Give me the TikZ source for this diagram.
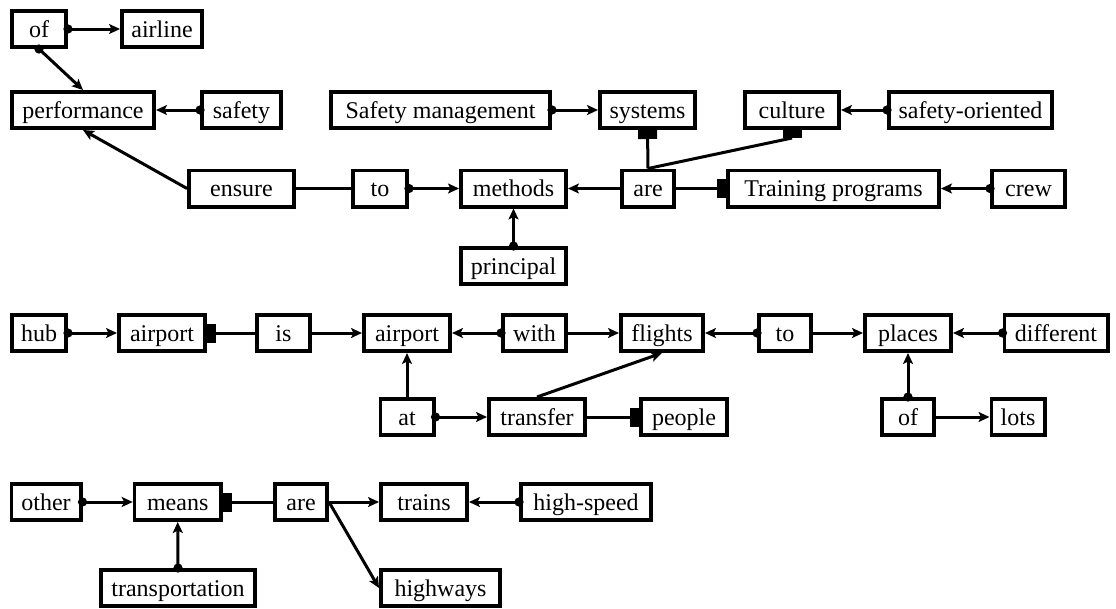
\documentclass[tikz,border=0pt]{standalone}
\usepackage{fontspec}
\setmainfont{Liberation Serif}
\usetikzlibrary{arrows.meta}
\tikzset{
  wb/.style={draw, line width=3.6pt, minimum height=36.4pt, inner xsep=1pt, inner ysep=0pt,
    font=\fontsize{24}{28}\selectfont, text height=18pt, text depth=2pt},
  conn/.style={line width=3pt},
  ar/.style={conn, -{Stealth[length=11pt,width=10pt,inset=2.5pt]}},
  dotar/.style={conn, {Circle[length=9pt]}-{Stealth[length=11pt,width=10pt,inset=2.5pt]}, shorten <=-4.5pt},
  sq/.style={conn, -{Rectangle[length=9pt,width=19pt]}},
}
\begin{document}
\begin{tikzpicture}[x=1pt,y=-1pt]
\useasboundingbox (0,0) rectangle (1116,608);
% graph 1
\node[wb, minimum width=54.4pt] (of1) at (39,29) {of};
\node[wb, minimum width=80.4pt] (airline) at (162,29) {airline};
\node[wb, minimum width=142.4pt] (perf) at (83,110) {performance};
\node[wb, minimum width=79.4pt] (safety) at (241.5,110) {safety};
\node[wb, minimum width=219.4pt] (sm) at (440.5,110) {Safety management};
\node[wb, minimum width=95.4pt] (systems) at (647.5,110) {systems};
\node[wb, minimum width=94.4pt] (culture) at (792,110) {culture};
\node[wb, minimum width=163.4pt] (so) at (970.5,110) {safety-oriented};
\node[wb, minimum width=105.4pt] (ensure) at (241.5,188.5) {ensure};
\node[wb, minimum width=54.4pt] (to1) at (380,188.5) {to};
\node[wb, minimum width=105.4pt] (methods) at (513.5,188.5) {methods};
\node[wb, minimum width=52.4pt] (are1) at (648,188.5) {are};
\node[wb, minimum width=211.4pt] (tp) at (833.5,188.5) {Training programs};
\node[wb, minimum width=73.4pt] (crew) at (1028.5,188.5) {crew};
\node[wb, minimum width=105.4pt] (principal) at (513.5,266) {principal};
% graph 2
\node[wb, minimum width=54.4pt] (hub) at (39,333) {hub};
\node[wb, minimum width=86.4pt] (airport1) at (162,333) {airport};
\node[wb, minimum width=53.4pt] (isn) at (283.5,333) {is};
\node[wb, minimum width=86.4pt] (airport2) at (407,333) {airport};
\node[wb, minimum width=63.4pt] (withn) at (534.5,333) {with};
\node[wb, minimum width=82.4pt] (flights) at (662,333) {flights};
\node[wb, minimum width=52.4pt] (to2) at (785,333) {to};
\node[wb, minimum width=86.4pt] (places) at (908,333) {places};
\node[wb, minimum width=103.4pt] (different) at (1056,333) {different};
\node[wb, minimum width=53.4pt] (atn) at (407,417) {at};
\node[wb, minimum width=96.4pt] (transfer) at (537,417) {transfer};
\node[wb, minimum width=86.4pt] (people) at (684,417) {people};
\node[wb, minimum width=52.4pt] (of2) at (908,417) {of};
\node[wb, minimum width=53.4pt] (lots) at (1018,417) {lots};
% graph 3
\node[wb, minimum width=69.4pt] (other) at (46,502) {other};
\node[wb, minimum width=86.4pt] (means) at (177.7,502) {means};
\node[wb, minimum width=52.4pt] (are2) at (301,502) {are};
\node[wb, minimum width=86.4pt] (trains) at (424,502) {trains};
\node[wb, minimum width=130.4pt] (hs) at (586,502) {high-speed};
\node[wb, minimum width=154.4pt] (transport) at (178,588) {transportation};
\node[wb, minimum width=119.4pt] (highways) at (440.5,588) {highways};
% connectors graph 1
\draw[dotar] (of1.east) -- (airline.west);
\draw[dotar] (of1.south) -- (perf.north);
\draw[dotar] (safety.west) -- (perf.east);
\draw[ar] (ensure.west) -- (perf.south);
\draw[conn] (ensure.east) -- (to1.west);
\draw[dotar] (to1.east) -- (methods.west);
\draw[ar] (are1.west) -- (methods.east);
\draw[dotar] (principal.north) -- (methods.south);
\draw[dotar] (sm.east) -- (systems.west);
\draw[sq] (are1.north) -- (systems.south);
\coordinate (cm) at ([yshift=-8pt]culture.south);
\draw[conn] (are1.north) -- (cm);
\fill ([xshift=-9.5pt]culture.south) rectangle ([xshift=9.5pt,yshift=-8pt]culture.south);
\draw[sq] (are1.east) -- (tp.west);
\draw[dotar] (crew.west) -- (tp.east);
\draw[dotar] (so.west) -- (culture.east);
% connectors graph 2
\draw[dotar] (hub.east) -- (airport1.west);
\draw[sq] (isn.west) -- (airport1.east);
\draw[ar] (isn.east) -- (airport2.west);
\draw[dotar] (withn.west) -- (airport2.east);
\draw[ar] (atn.north) -- (airport2.south);
\draw[dotar] (atn.east) -- (transfer.west);
\draw[ar] (withn.east) -- (flights.west);
\draw[ar] (transfer.north) -- (flights.south);
\draw[dotar] (to2.west) -- (flights.east);
\draw[ar] (to2.east) -- (places.west);
\draw[dotar] (different.west) -- (places.east);
\draw[dotar] (of2.north) -- (places.south);
\draw[ar] (of2.east) -- (lots.west);
\draw[sq] (transfer.east) -- (people.west);
% connectors graph 3
\draw[dotar] (other.east) -- (means.west);
\draw[sq] (are2.west) -- (means.east);
\draw[ar] (are2.east) -- (trains.west);
\draw[ar] (are2.east) -- (highways.west);
\draw[dotar] (hs.west) -- (trains.east);
\draw[dotar] (transport.north) -- (means.south);
\end{tikzpicture}
\end{document}
